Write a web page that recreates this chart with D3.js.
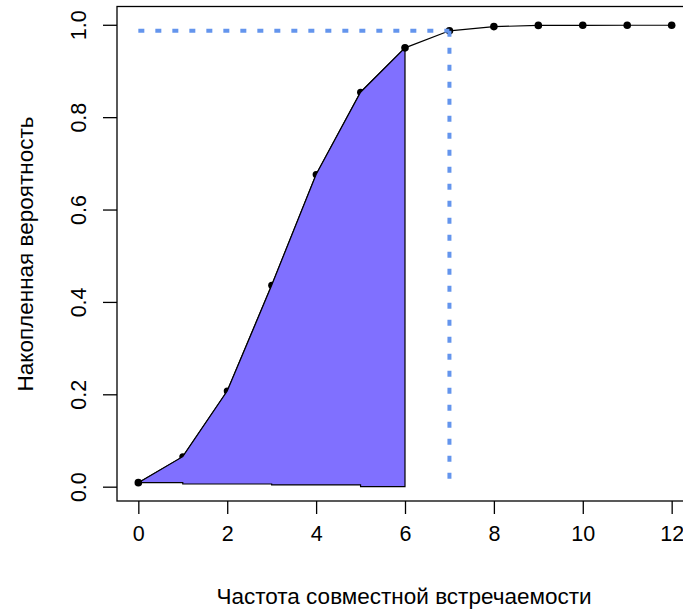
<!DOCTYPE html>
<html>
<head>
<meta charset="utf-8">
<script src="https://cdn.jsdelivr.net/npm/d3@7"></script>
<style>
    body { margin: 0; background: #fff; }
    text { font-family: "Liberation Sans", Arial, sans-serif; fill: #000; }
</style>
</head>
<body>
<div id="chart"></div>
<script>
"use strict";
(function () {
    // cumulative probability per co-occurrence frequency
    const freq = [0, 1, 2, 3, 4, 5, 6, 7, 8, 9, 10, 11, 12]
    const cumProb = [0.0087, 0.065, 0.207, 0.436, 0.676, 0.854, 0.950, 0.987, 0.996, 0.9987, 0.9989, 0.999, 0.999]
    // lower edge of the shaded area (x, y)
    const baseX = [6, 5, 5, 3, 3, 1, 1, 0]
    const baseY = [0.0, 0.0, 0.0037, 0.0037, 0.0058, 0.0058, 0.0087, 0.0087]
    const shadeTo = 6
    const cutX = 7
    const cutY = 0.987
    const xTicks = [0, 2, 4, 6, 8, 10, 12]
    const yTicks = [0.0, 0.2, 0.4, 0.6, 0.8, 1.0]
    const xTitle = "Частота совместной встречаемости"
    const yTitle = "Накопленная вероятность"

    const measurements = { width: 683, height: 609 }

    const svg = d3.select("#chart").append("svg")
        .attr("width", measurements.width)
        .attr("height", measurements.height)

    // R style 4% padding around data range
    const scaleX = d3.scaleLinear().domain([-0.48, 12.48]).range([117, 693])
    const scaleY = d3.scaleLinear().domain([-0.031, 1.04]).range([501, 6.3])

    // box
    svg.append("rect")
        .attr("x", 117).attr("y", 6.5)
        .attr("width", 576).attr("height", 494.5)
        .attr("fill", "none").attr("stroke", "#000").attr("stroke-width", 1.3)

    // x axis
    const xAxis = d3.axisBottom(scaleX).tickValues(xTicks).tickSize(13).tickPadding(12)
        .tickFormat(d3.format("d"))
    const gx = svg.append("g").attr("transform", "translate(0,501)").call(xAxis)
    gx.select(".domain").remove()
    gx.selectAll("line").attr("stroke-width", 1.3)
    gx.selectAll("text").attr("font-size", 21.5).style("font-family", "Liberation Sans, Arial, sans-serif")

    // y axis with rotated labels
    const yAxis = d3.axisLeft(scaleY).tickValues(yTicks).tickSize(14).tickFormat(d3.format(".1f"))
    const gy = svg.append("g").attr("transform", "translate(117,0)").call(yAxis)
    gy.select(".domain").remove()
    gy.selectAll("line").attr("stroke-width", 1.3)
    gy.selectAll("text")
        .attr("x", null).attr("dy", null)
        .attr("text-anchor", "middle")
        .attr("transform", "translate(-39,0) rotate(-90)")
        .attr("dy", "0.35em")
        .attr("font-size", 21.5).style("font-family", "Liberation Sans, Arial, sans-serif")

    // titles
    svg.append("text")
        .attr("x", 404).attr("y", 604)
        .attr("text-anchor", "middle").attr("font-size", 22.5)
        .text(xTitle)
    svg.append("text")
        .attr("transform", "translate(33,254) rotate(-90)")
        .attr("text-anchor", "middle").attr("font-size", 22.5)
        .text(yTitle)

    const pts = freq.map((f, i) => ({ x: f, y: cumProb[i] }))
    const line = d3.line().x(d => scaleX(d.x)).y(d => scaleY(d.y))

    // connecting line and points
    svg.append("path").datum(pts).attr("d", line)
        .attr("fill", "none").attr("stroke", "#000").attr("stroke-width", 1.2)
    svg.selectAll(".pt-under").data(pts.filter(d => d.x > 0 && d.x < shadeTo)).enter()
        .append("circle")
        .attr("cx", d => scaleX(d.x)).attr("cy", d => scaleY(d.y)).attr("r", 3.5)
        .attr("fill", "#000")

    // shaded area up to x = 6
    const upper = pts.filter(d => d.x <= shadeTo)
    const lower = baseX.map((x, i) => ({ x: x, y: baseY[i] }))
    svg.append("path").datum(upper.concat(lower))
        .attr("d", d3.line().x(d => scaleX(d.x)).y(d => scaleY(d.y)).curve(d3.curveLinearClosed))
        .attr("fill", "#8070FF").attr("stroke", "#000").attr("stroke-width", 1.2)

    svg.selectAll(".pt-over").data(pts.filter(d => d.x === 0 || d.x >= shadeTo)).enter()
        .append("circle")
        .attr("cx", d => scaleX(d.x)).attr("cy", d => scaleY(d.y)).attr("r", 3.8)
        .attr("fill", "#000")

    // dotted guide lines
    const guide = [[{ x: 0, y: cutY }, { x: cutX, y: cutY }], [{ x: cutX, y: cutY }, { x: cutX, y: 0 }]]
    svg.selectAll(".guide").data(guide).enter().append("path")
        .attr("d", line)
        .attr("fill", "none").attr("stroke", "#6495ED")
        .attr("stroke-width", 4).attr("stroke-dasharray", "6 11")
})()
</script>
</body>
</html>
